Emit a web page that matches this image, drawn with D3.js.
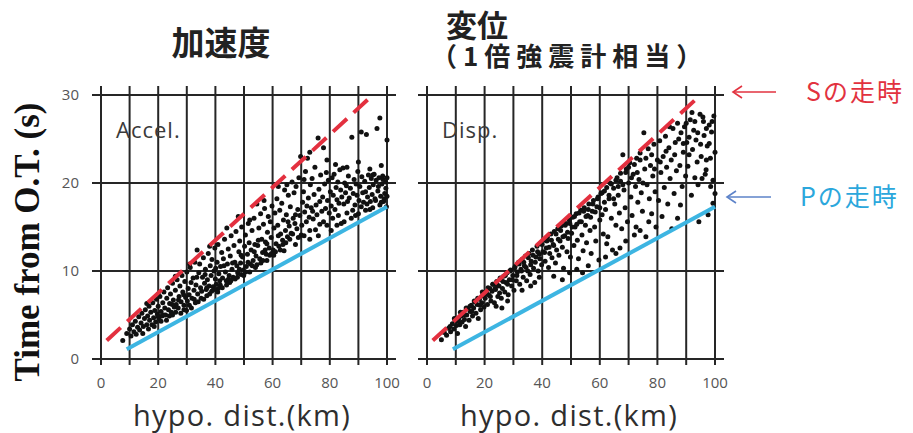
<!DOCTYPE html>
<html>
<head>
<meta charset="utf-8">
<script src="https://cdn.jsdelivr.net/npm/d3@7/dist/d3.min.js"></script>
<style>
  html, body { margin: 0; padding: 0; background: #fff; }
  svg { display: block; }
</style>
</head>
<body>
<svg id="chart" width="913" height="433"></svg>
<script>
// Travel-time chart data: hypocentral distance (km) vs. time from origin time (s)
const xTicks = [0, 20, 40, 60, 80, 100];
const xGrid = [0, 10, 20, 30, 40, 50, 60, 70, 80, 90, 100];
const yTicks = [0, 10, 20, 30];
const panelTitles = ["加速度", "変位"];
const panelSubtitle = "（1倍強震計相当）";
const panelTags = ["Accel.", "Disp."];
const legendLabels = ["Sの走時", "Pの走時"];

// Theoretical travel-time lines [distance, time]
const sLine = [[2, 2.1], [94, 29.7]];
const pLine = [[9, 1.1], [100, 17.3]];

// Picked arrival times, acceleration records
const accelPoints = [
  [7.6,2.1],[9,2.9],[10,3.4],[10.5,2.6],[11,3.9],[11.5,3.1],[12,4.3],[12.3,2.8],[12.8,3.6],[13.2,4.8],
  [13.5,3.3],[14,4.1],[14.3,5.2],[14.8,3.7],[15.2,4.6],[15.5,5.6],[16,3.9],[16.3,4.9],[16.8,6.0],[17,4.4],
  [17.4,5.3],[17.8,3.9],[18.1,6.4],[18.4,4.7],[18.8,5.5],[19.1,4.2],[19.4,6.8],[19.7,5.1],[20,6.0],[20.2,4.6],
  [20.6,7.1],[21,5.4],[21.3,4.9],[21.6,6.4],[22,7.6],[22.3,5.8],[22.6,5.0],[23,6.9],[23.3,8.1],[23.6,5.6],
  [24,6.3],[24.3,7.4],[24.6,5.3],[25,8.6],[25.3,6.7],[25.6,5.9],[26,7.8],[26.3,6.2],[26.6,9.0],[27,5.8],
  [27.3,7.1],[27.6,8.3],[28,6.5],[28.3,9.5],[28.6,7.6],[29,6.1],[29.3,8.8],[29.6,7.0],[30,9.9],[30.2,6.6],
  [30.5,8.0],[30.8,7.3],[31.2,10.4],[31.5,8.7],[31.8,6.9],[32.2,9.2],[32.5,7.8],[32.8,11.0],[33.2,8.4],[33.6,12.4],
  [33.8,7.4],[34.2,9.8],[34.5,10.8],[34.8,8.1],[35.2,7.7],[35.5,9.3],[35.8,11.5],[36.2,8.6],[36.5,10.2],[36.8,7.9],
  [37.2,9.0],[37.5,12.0],[37.8,8.3],[38.2,10.6],[38.5,9.5],[38.8,11.3],[39.2,8.2],[39.5,10.0],[39.8,12.6],[40,9.1],
  [40.3,8.5],[40.6,11.0],[40.9,13.0],[41.2,9.7],[41.5,8.9],[41.8,10.5],[42.2,12.1],[42.5,9.2],[42.8,11.4],[43.2,13.6],
  [43.5,9.9],[43.8,8.9],[44.2,10.8],[44.5,12.5],[44.8,9.5],[45.2,11.7],[45.5,14.0],[45.8,10.2],[46.2,9.3],[46.5,12.9],
  [46.8,11.0],[47.2,14.5],[47.5,10.6],[47.8,9.8],[48.2,12.2],[48.5,13.4],[48.8,10.9],[49.2,15.0],[49.5,11.6],[49.8,10.1],
  [50.2,12.8],[50.5,14.1],[50.8,10.5],[51.2,11.9],[51.5,15.4],[51.8,13.2],[52.2,10.8],[52.5,12.4],[52.8,14.6],[53.2,11.2],
  [53.5,16.0],[53.8,13.0],[54.2,11.7],[54.5,17.6],[54.8,12.9],[55.2,14.9],[55.5,11.4],[55.8,16.5],[56.2,13.6],[56.5,12.1],
  [56.8,15.3],[57.2,17.1],[57.5,13.3],[57.8,11.9],[58.2,14.4],[58.5,16.2],[58.8,12.6],[59.2,15.6],[59.5,13.8],[59.8,17.4],
  [60.2,12.4],[60.5,14.9],[60.8,16.6],[61.2,13.1],[61.5,18.2],[61.8,15.2],[62.2,12.8],[62.5,16.9],[62.8,14.2],[63.2,17.7],
  [63.5,13.5],[63.8,15.8],[64.2,19.2],[64.5,14.6],[64.8,16.4],[65.2,13.9],[65.5,18.6],[65.8,15.1],[66.2,17.3],[66.5,14.3],
  [66.8,20.1],[67.2,16.0],[67.5,18.9],[67.8,15.4],[68.2,19.6],[68.5,14.8],[68.8,17.0],[69.2,20.6],[69.5,16.3],[69.8,23.0],
  [70.2,15.2],[70.5,17.8],[70.8,19.0],[71.2,16.7],[71.5,21.3],[71.8,15.6],[72.2,22.8],[72.5,18.3],[72.8,16.1],[73.2,19.8],
  [73.5,17.2],[73.8,20.5],[74.2,15.9],[74.5,18.7],[74.8,21.8],[75.2,17.5],[75.5,16.4],[75.9,25.1],[76.2,19.3],[76.5,17.9],
  [76.8,20.9],[77.2,16.8],[77.5,18.4],[77.8,24.0],[78.2,19.9],[78.5,17.1],[78.8,21.2],[79.2,18.0],[79.5,20.3],[79.8,16.6],
  [80.2,19.0],[80.5,17.4],[80.8,20.6],[81.2,18.6],[81.5,21.0],[81.8,17.0],[82.2,19.5],[82.5,18.1],[82.8,20.1],[83.2,17.7],
  [83.5,21.5],[83.8,19.2],[84.2,18.4],[84.6,21.7],[84.9,17.6],[85.2,20.0],[85.5,18.9],[85.8,19.7],[86.2,17.9],[86.5,20.8],
  [86.8,18.3],[87.2,19.4],[87.7,25.2],[88.2,18.8],[88.5,20.4],[88.8,17.5],[89.2,19.9],[89.5,18.6],[89.8,21.3],
  [90.2,18.0],[90.5,19.6],[91,25.8],[91.2,20.7],[91.5,18.9],[91.8,17.8],[92.2,20.2],[92.5,19.0],[92.8,25.5],[93.2,18.4],
  [93.5,20.9],[93.8,19.5],[94.2,17.9],[94.5,20.5],[94.8,18.7],[95.2,19.8],[95.5,21.0],[95.8,18.2],[96.2,20.3],[96.5,26.2],
  [96.8,19.1],[97.2,20.6],[97.5,27.4],[97.8,18.5],[98.2,19.9],[98.5,20.8],[98.8,17.9],[99.2,18.8],[99.5,20.1],[100,24.9],
  [99.8,17.3],[99.6,19.4],
  [80.5,14.6],[82.5,15.2],[85,15.6],[87.5,16.0],[90,16.5],[92.5,16.9],[95,17.2],[97.5,17.5],[76,14.0],[73,13.6],
  [68,13.0],[64,12.3],[58,11.2],[54,10.4],[49,9.6],[45,8.7],[41,8.0],[37,7.2],[33,6.4],[29,5.6],[25,5.0],[21,4.3],
  [14.6,2.9],[16.6,3.4],[18.6,3.7],[19.9,4.9],[21.9,5.0],[22.9,4.4],[23.9,4.9],[24.9,6.2],[26.1,5.3],[27.1,6.7],
  [27.9,5.2],[28.9,7.3],[29.9,5.5],[30.9,6.1],[31.6,5.8],[32.6,6.8],[33.5,9.3],[34.0,6.5],[35.0,6.9],[35.9,6.8],
  [36.4,9.6],[37.0,8.1],[38.0,7.4],[38.7,7.7],[39.5,7.9],[40.1,10.3],[40.8,7.6],[41.7,8.4],[42.4,8.1],[43.0,10.6],
  [43.9,8.4],[44.6,9.1],[45.4,8.9],[46.0,10.9],[46.9,9.1],[47.7,9.3],[48.4,10.2],[49.0,11.8],[49.9,9.5],[50.6,9.9],
  [51.4,11.0],[52.0,9.9],[52.9,10.6],[53.6,12.2],[54.5,10.7],[55.0,13.5],[55.9,10.9],[56.6,11.2],[57.4,12.4],[58.0,13.1],
  [59.0,11.8],[59.6,12.0],[60.4,11.8],[61.0,12.2],[62.0,14.0],[62.7,12.4],[63.6,13.0],[64.6,13.2],[65.4,15.6],[66.0,13.6],
  [67.0,14.2],[68.0,16.4],[69.0,13.8],[70.0,14.1],[71.0,14.0],[72.0,17.4],[73.0,14.6],[74.0,16.8],[75.0,14.7],[76.5,15.3],
  [77.8,15.6],[79.0,15.2],[81.0,16.0],[83.0,16.3],[84.0,15.4],[86.0,16.6],[88.0,16.9],[89.0,16.3],[91.0,17.3],[93.0,17.6],
  [94.0,17.0],[96.0,18.0],[98.0,17.8],[99.0,18.2],[100,20.6],[100,18.5],[98.6,20.4],[97,19.6],[95,20.9],
  [44,14.9],[48,16.2],[52,15.8],[57,18.0],[62,19.6],[65,19.8],[71,20.4],[73,23.5],[79,22.6],[82,22.1],
  [86,21.8],[90,22.4],[94,21.6],[98,22.0],[38,12.8],[31,10.8],[26,9.4],[20,7.4],[16,6.3]
];

// Picked arrival times, displacement records
const dispPoints = [
  [5,2.2],[6,3.0],[6.8,2.7],[7.5,3.5],[8.2,3.1],[8.8,4.0],[9.3,3.4],[9.8,4.4],[10.2,3.8],[10.6,2.9],
  [11,4.6],[11.4,3.9],[11.8,4.9],[12.2,4.2],[12.6,5.3],[13,4.5],[13.4,3.7],[13.8,5.0],[14.2,5.7],[14.6,4.4],
  [15,5.4],[15.4,6.1],[15.8,4.9],[16.2,5.8],[16.6,6.5],[17,5.2],[17.4,6.2],[17.8,4.6],[18.2,6.8],[18.6,5.6],
  [19,6.4],[19.4,7.2],[19.8,5.9],[20.2,6.9],
  [20.6,7.6],[21,6.2],[21.4,7.3],[21.8,8.0],[22.2,6.6],[22.6,7.7],[23,8.5],[23.4,6.4],[23.8,7.9],[24.2,8.8],
  [24.6,7.1],[25,8.3],[25.4,9.2],[25.8,6.9],[26.2,8.0],[26.6,9.4],[27,7.6],[27.4,8.7],[27.8,9.8],[28.2,7.3],
  [28.6,9.0],[29,10.1],[29.4,8.3],[29.8,9.5],[30.2,7.8],[26,5.8],[28,6.6],[24,6.0],
  [30.6,10.5],[31,8.9],[31.4,9.9],[31.8,11.0],[32.2,8.5],[32.6,10.2],[33,11.3],[33.4,9.3],[33.8,10.6],[34.2,11.7],
  [34.6,8.9],[35,10.0],[35.4,12.0],[35.8,9.6],[36.2,11.1],[36.6,12.4],[37,10.3],[37.4,8.7],[37.8,11.6],[38.2,12.8],
  [38.6,10.0],[39,11.9],[39.4,13.1],[39.8,10.7],[40.2,12.2],[33,7.8],[36,8.3],[39,9.3],
  [40.6,13.5],[41,11.1],[41.4,12.6],[41.8,13.8],[42.2,10.4],[42.6,12.0],[43,14.2],[43.4,11.5],[43.8,13.0],[44.2,14.5],
  [44.6,10.9],[45,12.4],[45.4,14.8],[45.8,11.8],[46.2,13.4],[46.6,15.1],[47,12.7],[47.4,10.3],[47.8,14.0],[48.2,15.4],
  [48.6,12.2],[49,13.7],[49.4,15.8],[49.8,11.6],[50.2,14.3],[44,9.4],[47,9.0],[49.5,9.8],
  [50.6,16.1],[51,12.9],[51.4,15.0],[51.8,16.5],[52.2,13.5],[52.6,11.4],[53,15.6],[53.4,16.9],[53.8,14.1],[54.2,12.3],
  [54.6,17.2],[55,15.2],[55.4,13.2],[55.8,16.3],[56.2,17.6],[56.6,14.6],[57,12.0],[57.4,16.8],[57.8,18.0],[58.2,15.0],
  [58.6,13.4],[59,17.3],[59.4,18.4],[59.7,11.25],[60,15.8],[52,10.2],[56,10.6],[54,9.8],
  [60.4,18.8],[60.8,16.4],[61.2,14.2],[61.6,19.1],[62,17.0],[62.4,13.1],[62.8,13.9],[63.2,18.2],[63.6,20.0],[64,16.0],
  [64.4,12.4],[64.8,19.4],[65.2,17.6],[65.6,15.2],[65.6,12.0],[66,20.6],[66.4,18.6],[66.8,16.6],[67.2,21.1],[67.6,14.8],
  [68,23.2],[68.4,19.2],[68.8,17.2],[69.2,21.6],[69.6,15.6],[70,20.0],[62,11.6],[67,12.6],[69,13.4],
  [70.4,22.3],[70.8,18.4],[71.2,16.3],[71.6,21.0],[72,14.1],[72.6,15.0],[72.4,19.6],[72.8,22.8],[73.2,17.8],[73.6,20.4],
  [74,23.4],[74.4,18.9],[74.8,16.8],[75.3,25.7],[75.6,21.6],[76,13.9],[76.4,19.8],[76.8,23.9],[77.2,18.2],[77.6,22.0],
  [78,16.5],[78.4,20.8],[78.8,24.4],[79.2,19.0],[79.5,15.0],[80,22.6],[74,14.6],[77,15.6],
  [80.4,18.0],[80.8,24.8],[81.2,21.2],[81.6,16.2],[82,23.0],[82.4,19.5],[82.8,25.3],[83.2,21.8],[83.6,17.6],[84,24.0],
  [84.4,20.5],[84.8,22.6],[85.4,26.2],[85.8,18.8],[86.2,24.6],[86.6,21.4],[87,16.0],[87.4,25.0],[87.8,22.0],[88.2,25.7],
  [88.6,19.6],[89,23.5],[89.4,26.4],[89.8,20.8],[85,14.8],[88,17.5],
  [90.2,24.6],[90.6,21.9],[91,25.2],[91.4,27.2],[91.8,18.6],[92.2,23.8],[92.6,26.0],[93,20.6],[93.4,24.9],[93.8,22.4],
  [94.1,19.8],[94.4,15.6],[94.8,27.8],[95.2,23.0],[95.8,27.5],[96.2,25.4],[96.6,21.0],[96.9,21.5],[97.3,24.2],[97.6,16.4],
  [98,26.6],[98.4,22.8],[98.8,25.8],[99.3,20.3],[99.3,17.7],[99.6,27.6],[100,23.5],[100,18.8],
  [8,3.7],[9.5,4.6],[10.8,4.3],[11.6,5.3],[12.9,5.0],[13.6,5.8],[14.9,6.0],[15.6,5.4],[16.4,6.6],[17.6,6.9],
  [18.4,6.1],[19.2,7.6],[20.4,7.4],[21.2,8.1],[22,7.1],[22.8,8.5],[23.6,8.0],[24.4,8.4],[25.2,7.5],[25.6,9.0],
  [26.4,8.8],[27.2,9.5],[28,8.5],[28.8,10.0],[29.6,9.0],[30.4,10.3],[31.2,9.5],[32,10.8],[32.8,10.0],[33.6,11.0],
  [34.4,10.4],[35.2,11.5],[36,10.7],[36.8,11.8],[37.6,11.0],[38.4,12.2],[39.2,11.4],[40,13.0],[40.8,12.1],[41.6,13.4],
  [42.4,12.7],[43.2,13.5],[44,12.9],[44.8,14.2],[45.6,13.6],[46.4,14.6],[47.2,13.9],[48,15.2],[48.8,14.4],[49.6,15.4],
  [50.4,15.0],[51.2,16.2],[52,15.3],[52.8,16.6],[53.6,15.6],[54.4,16.8],[55.2,16.2],[56,17.0],[56.8,16.1],[57.6,17.6],
  [58.4,16.7],[59.2,18.2],[60,17.2],[60.8,18.9],[61.6,17.8],[62.4,19.5],[63.2,18.6],[64,19.9],[64.8,18.2],[65.6,20.3],
  [66.4,19.6],[67.2,20.2],[68,19.8],[69,21.2],[70,21.8],[71,20.6],[72,22.1],[73,21.2],[74,22.6],[75,20.0],
  [76,22.8],[78,23.2],[79,21.6],[81,22.4],[83,23.6],[84.2,26.4],[86,23.2],[87,26.8],[89,24.5],[90,26.8],
  [91,23.2],[92,28.0],[93,27.0],[94,25.7],[95,24.4],[96,27.0],[97,26.2],[98,24.5],[99,27.0],[95.5,20.5],
  [98.5,19.6],[97,22.6]
];

const svg = d3.select("#chart");
const gridColor = "#262626";
const sColor = "#e3303f";
const pColor = "#3db5e2";
const latin = "'Open Sans', 'Noto Sans', sans-serif";
const cjk = "'Noto Sans CJK JP', 'Noto Sans', sans-serif";

const yScale = d3.scaleLinear().domain([0, 30]).range([359, 95]);

const panels = [
  { left: 101, right: 387, points: accelPoints, title: panelTitles[0], tag: panelTags[0], yLabels: true },
  { left: 427, right: 715, points: dispPoints, title: panelTitles[1], tag: panelTags[1], yLabels: false }
];

const line = d3.line();

panels.forEach((p, i) => {
  const x = d3.scaleLinear().domain([0, 100]).range([p.left, p.right]);
  const g = svg.append("g");

  // grid: horizontal lines overshoot the frame, vertical lines overshoot top & bottom
  g.selectAll("line.h").data(yTicks).join("line")
    .attr("x1", x(0) - 9).attr("x2", x(100) + 9)
    .attr("y1", d => yScale(d)).attr("y2", d => yScale(d))
    .attr("stroke", gridColor).attr("stroke-width", 2);
  g.selectAll("line.v").data(xGrid).join("line")
    .attr("x1", d => x(d)).attr("x2", d => x(d))
    .attr("y1", yScale(30) - 9).attr("y2", yScale(0) + 6)
    .attr("stroke", gridColor).attr("stroke-width", 2);

  // x tick labels
  g.selectAll("text.xt").data(xTicks).join("text")
    .attr("x", d => x(d)).attr("y", 388)
    .attr("text-anchor", "middle")
    .attr("font-family", latin).attr("font-size", 15)
    .attr("fill", "#555").text(d => d);

  if (p.yLabels) {
    g.selectAll("text.yt").data(yTicks).join("text")
      .attr("x", 79).attr("y", d => yScale(d) + 5)
      .attr("text-anchor", "end")
      .attr("font-family", latin).attr("font-size", 15)
      .attr("fill", "#555").text(d => d);
  }

  // scatter of picked arrivals
  g.selectAll("circle").data(p.points).join("circle")
    .attr("cx", d => x(d[0])).attr("cy", d => yScale(d[1]))
    .attr("r", 2.5).attr("fill", "#111");

  // S-wave travel time (dashed) and P-wave travel time (solid)
  g.append("path").attr("d", line(sLine.map(d => [x(d[0]), yScale(d[1])])))
    .attr("fill", "none").attr("stroke", sColor).attr("stroke-width", 4)
    .attr("stroke-dasharray", "19,9");
  g.append("path").attr("d", line(pLine.map(d => [x(d[0]), yScale(d[1])])))
    .attr("fill", "none").attr("stroke", pColor).attr("stroke-width", 4);

  // in-panel tag
  g.append("text").attr("x", x(0) + 15).attr("y", 138)
    .attr("font-family", latin).attr("font-size", 22)
    .attr("letter-spacing", 1)
    .attr("fill", "#3a3a3a").text(p.tag);

  // x axis title
  g.append("text").attr("x", (x(0) + x(100)) / 2 - 2).attr("y", 426)
    .attr("text-anchor", "middle")
    .attr("font-family", latin).attr("font-size", 29)
    .attr("letter-spacing", 1.3)
    .attr("fill", "#2e2e2e").text("hypo. dist.(km)");
});

// panel titles
svg.append("text").attr("x", 221).attr("y", 55).attr("text-anchor", "middle")
  .attr("font-family", cjk).attr("font-size", 33).attr("font-weight", 700)
  .attr("fill", "#222").text(panelTitles[0]);
svg.append("text").attr("x", 446).attr("y", 37)
  .attr("font-family", cjk).attr("font-size", 31).attr("font-weight", 700)
  .attr("fill", "#222").text(panelTitles[1]);
svg.append("text").attr("x", 431).attr("y", 66)
  .attr("font-family", cjk).attr("font-size", 26).attr("font-weight", 700)
  .attr("letter-spacing", 6)
  .attr("fill", "#222").text(panelSubtitle);

// y axis title
svg.append("text")
  .attr("transform", "translate(39,242) rotate(-90)")
  .attr("text-anchor", "middle")
  .attr("font-family", "'Liberation Serif', 'Times New Roman', serif")
  .attr("font-size", 35).attr("font-weight", 700)
  .attr("fill", "#111").text("Time from O.T. (s)");

// legend arrows with labels
const legend = [
  { y: 92, x1: 733, x2: 776, arrowColor: "#e2323f", textColor: "#e2323f", tx: 806, label: legendLabels[0] },
  { y: 197, x1: 727, x2: 771, arrowColor: "#5d83c9", textColor: "#2ba7dc", tx: 800, label: legendLabels[1] }
];
legend.forEach(l => {
  svg.append("line").attr("x1", l.x1).attr("x2", l.x2).attr("y1", l.y).attr("y2", l.y)
    .attr("stroke", l.arrowColor).attr("stroke-width", 1.6);
  svg.append("path")
    .attr("d", `M${l.x1 + 9},${l.y - 6} L${l.x1},${l.y} L${l.x1 + 9},${l.y + 6}`)
    .attr("fill", "none").attr("stroke", l.arrowColor).attr("stroke-width", 1.6);
  svg.append("text").attr("x", l.tx).attr("y", l.y + 9)
    .attr("font-family", cjk).attr("font-size", 25)
    .attr("letter-spacing", 2)
    .attr("fill", l.textColor).text(l.label);
});
</script>
</body>
</html>
